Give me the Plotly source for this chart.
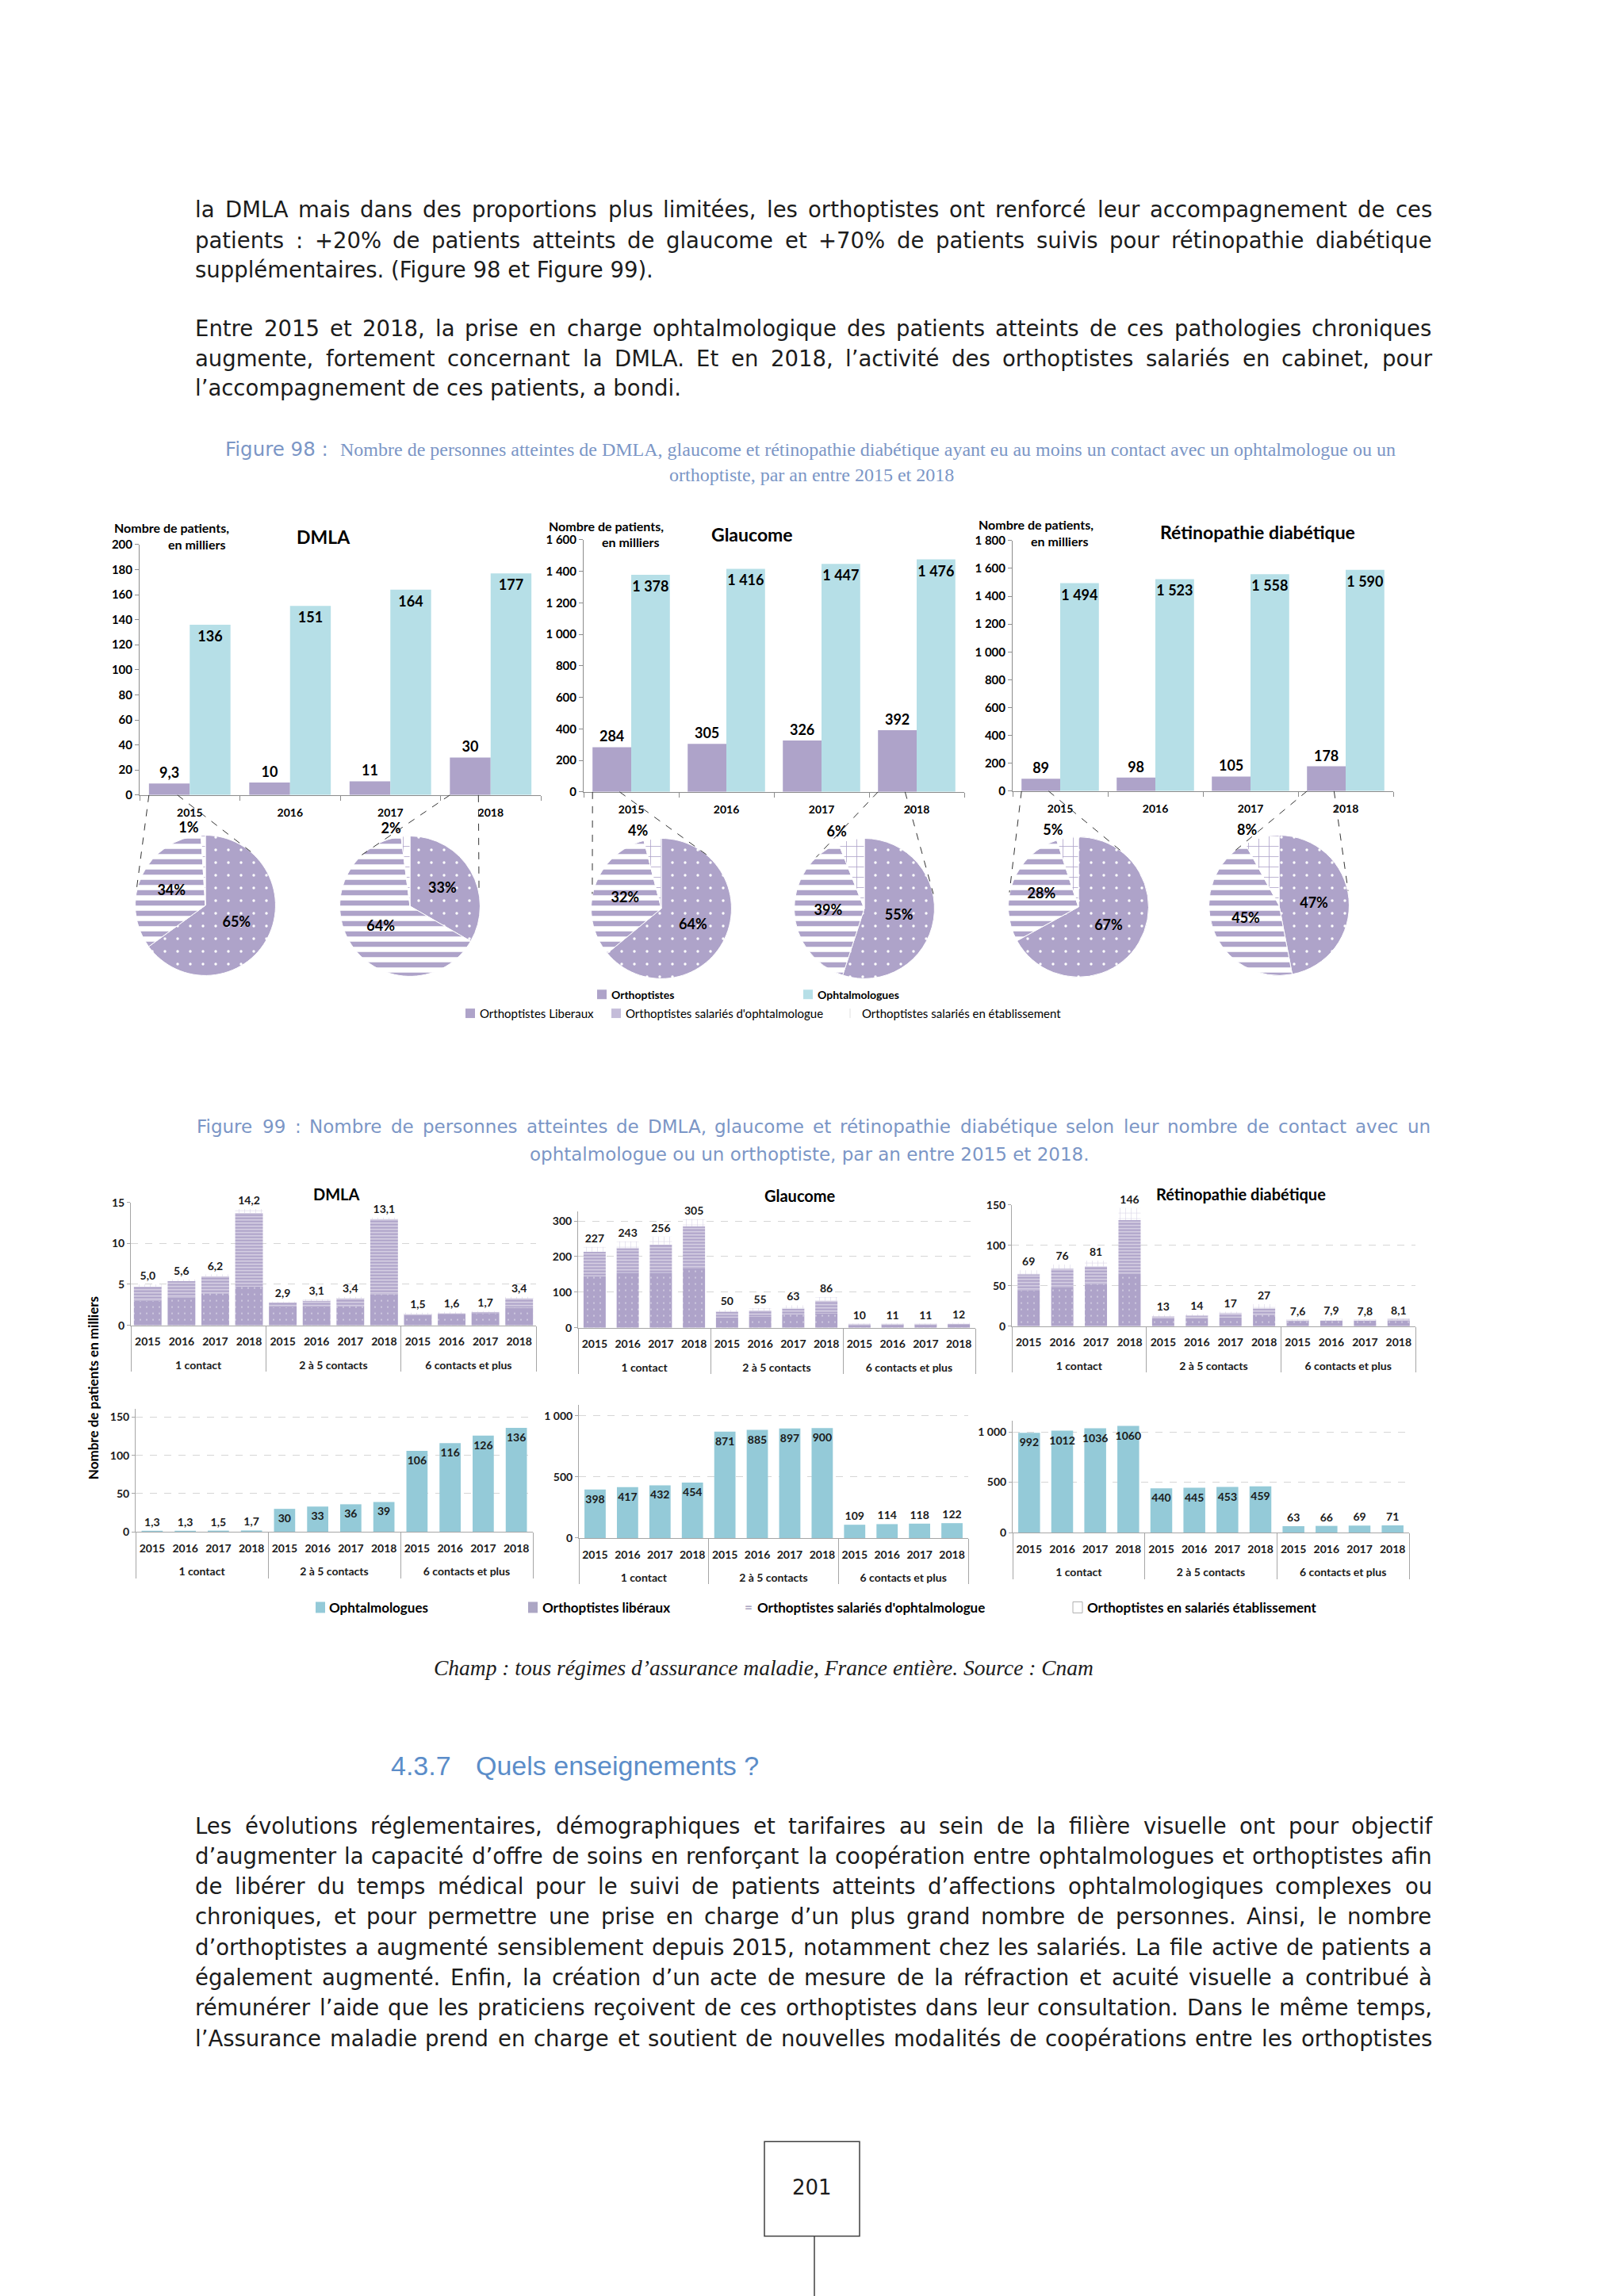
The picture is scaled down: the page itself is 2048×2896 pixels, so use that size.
import math
import unicodedata
import plotly.graph_objects as go

W, H = 2048, 2896
OFF = 8  # compensates the default 8px page margin around the plot
def X(p): return (p - OFF) / W
def Y(p): return 1 - (p - OFF) / H

PURPLE = "#aea3c9"
PURPLE_L = "#c4bcd9"
BLUE1 = "#b6dfe7"
BLUE2 = "#94cad8"
AX = "#8c8c8c"
AX2 = "#a6a6a6"
GRID = "#d6d6d6"
CAP = "#7b96c6"
HEAD = "#5b8dc9"
TXT = "#1c1c1c"
CH = "Lato"
BODY = "DejaVu Sans"
SERIF = "Liberation Serif"

# ---------------- Figure 98 data ----------------
years = ["2015", "2016", "2017", "2018"]
dmla_orthoptistes = [9.3, 10, 11, 30]
dmla_ophtalmologues = [136, 151, 164, 177]
glaucome_orthoptistes = [284, 305, 326, 392]
glaucome_ophtalmologues = [1378, 1416, 1447, 1476]
retino_orthoptistes = [89, 98, 105, 178]
retino_ophtalmologues = [1494, 1523, 1558, 1590]

pie_labels = ["Orthoptistes Liberaux", "Orthoptistes salariés d'ophtalmologue",
              "Orthoptistes salariés en établissement"]
dmla_pie_2015 = [65, 34, 1]
dmla_pie_2018 = [33, 64, 2]
glaucome_pie_2015 = [64, 32, 4]
glaucome_pie_2018 = [55, 39, 6]
retino_pie_2015 = [67, 28, 5]
retino_pie_2018 = [47, 45, 8]

# ---------------- Figure 99 data ----------------
contact_groups = ["1 contact", "2 à 5 contacts", "6 contacts et plus"]
dmla_liberaux = [3.0, 3.4, 3.9, 4.7, 2.2, 2.2, 2.3, 3.8, 1.3, 1.4, 1.45, 2.15]
dmla_sal_ophtalmo = [1.7, 2.0, 2.1, 9.0, 0.65, 0.85, 1.05, 9.2, 0.15, 0.15, 0.2, 1.2]
dmla_sal_etab = [0.3, 0.2, 0.2, 0.5, 0.05, 0.05, 0.05, 0.1, 0.05, 0.05, 0.05, 0.05]
dmla_orthoptistes_total = [5.0, 5.6, 6.2, 14.2, 2.9, 3.1, 3.4, 13.1, 1.5, 1.6, 1.7, 3.4]

glaucome_liberaux = [144, 155, 155, 167, 28, 31, 37, 40, 7, 7.5, 7.5, 8]
glaucome_sal_ophtalmo = [70, 69, 79, 118, 18, 17, 17, 36, 2.5, 3, 3, 3.5]
glaucome_sal_etab = [13, 19, 22, 20, 4, 7, 9, 10, 0.5, 0.5, 0.5, 0.5]
glaucome_orthoptistes_total = [227, 243, 256, 305, 50, 55, 63, 86, 10, 11, 11, 12]

retino_liberaux = [44, 48, 52, 65, 10, 10, 11, 14, 6.8, 7.0, 6.9, 7.1]
retino_sal_ophtalmo = [20, 23, 22, 66, 2.5, 3.5, 5, 8, 0.6, 0.7, 0.7, 0.8]
retino_sal_etab = [5, 5, 7, 15, 0.5, 0.5, 1, 5, 0.2, 0.2, 0.2, 0.2]
retino_orthoptistes_total = [69, 76, 81, 146, 13, 14, 17, 27, 7.6, 7.9, 7.8, 8.1]

dmla_ophtalmo_contacts = [1.3, 1.3, 1.5, 1.7, 30, 33, 36, 39, 106, 116, 126, 136]
glaucome_ophtalmo_contacts = [398, 417, 432, 454, 871, 885, 897, 900, 109, 114, 118, 122]
retino_ophtalmo_contacts = [992, 1012, 1036, 1060, 440, 445, 453, 459, 63, 66, 69, 71]

# ---------------- helpers ----------------
def fmt(v, sep=" "):
    if v < 10 or abs(v - round(v)) > 1e-9:
        return f"{v:.1f}".replace(".", ",")
    return f"{int(round(v)):,}".replace(",", sep)

annotations = []
shapes = []

def ann(text, x, y, size, family=CH, color=TXT, weight="normal", xanchor="left",
        yanchor="middle", style="normal", angle=0):
    annotations.append(dict(text=text, x=X(x), y=Y(y), xref="paper", yref="paper",
                            showarrow=False, xanchor=xanchor, yanchor=yanchor, textangle=angle,
                            font=dict(family=family, size=size, color=color, weight=weight, style=style)))

def sline(x0, y0, x1, y1, color, width=1, dash="solid"):
    shapes.append(dict(type="line", xref="paper", yref="paper", x0=X(x0), y0=Y(y0),
                       x1=X(x1), y1=Y(y1), line=dict(color=color, width=width, dash=dash)))

def srect(x0, y0, x1, y1, fill, color=None, width=0):
    shapes.append(dict(type="rect", xref="paper", yref="paper", x0=X(x0), y0=Y(y0),
                       x1=X(x1), y1=Y(y1), fillcolor=fill,
                       line=dict(color=color or fill, width=width)))

DJV = {' ': 651, '!': 821, '%': 1948, "'": 563, '\u2019': 651, '(': 799, ')': 799, '+': 1716,
       ',': 651, '-': 739, '.': 651, ':': 690, ';': 690, '?': 1087,
       'A': 1401, 'B': 1405, 'C': 1430, 'D': 1577, 'E': 1294, 'F': 1178, 'G': 1587, 'H': 1540,
       'I': 604, 'J': 604, 'K': 1343, 'L': 1141, 'M': 1767, 'N': 1532, 'O': 1612, 'P': 1235,
       'Q': 1612, 'R': 1423, 'S': 1300, 'T': 1251, 'U': 1499, 'V': 1401, 'W': 2025, 'X': 1403,
       'Y': 1251, 'Z': 1403, 'a': 1255, 'b': 1300, 'c': 1126, 'd': 1300, 'e': 1260, 'f': 721,
       'g': 1300, 'h': 1298, 'i': 569, 'j': 569, 'k': 1186, 'l': 569, 'm': 1995, 'n': 1298,
       'o': 1253, 'p': 1300, 'q': 1300, 'r': 842, 's': 1067, 't': 803, 'u': 1298, 'v': 1212,
       'w': 1675, 'x': 1212, 'y': 1212, 'z': 1075}
for _d in "0123456789":
    DJV[_d] = 1303

def tw(s, size):
    return sum(DJV.get(unicodedata.normalize("NFD", c)[0], 1200) for c in s) / 2048 * size

def body_line(line, y, size=27.5, color=TXT, x0=244, x1=1804, justify=True):
    if not justify:
        ann(line, x0, y, size, BODY, color)
        return
    words = line.split(" ")
    widths = [tw(w, size) for w in words]
    gap = (x1 - x0 - sum(widths)) / (len(words) - 1)
    x = x0
    for w, wd in zip(words, widths):
        ann(w, x, y, size, BODY, color)
        x += wd + gap

fig = go.Figure()
layout_axes = {}

def names(i):
    if i == 1:
        return "x", "y", "xaxis", "yaxis"
    return f"x{i}", f"y{i}", f"xaxis{i}", f"yaxis{i}"

# ---------------- Figure 98 : grouped bars + pies ----------------
BARGAP = 0.187
f98 = [
    dict(title="DMLA", ortho=dmla_orthoptistes, ophta=dmla_ophtalmologues, rng=200, dt=20,
         x0=176, x1=682, yt=681, yb=999, txy=(408, 671), nb=(216, 660), em=(248, 681),
         pies=[(dmla_pie_2015, 259, 1139, 0), (dmla_pie_2018, 517, 1140, 3)]),
    dict(title="Glaucome", ortho=glaucome_orthoptistes, ophta=glaucome_ophtalmologues, rng=1600, dt=200,
         x0=736, x1=1216, yt=675, yb=995, txy=(948, 668), nb=(764, 658), em=(795, 678),
         pies=[(glaucome_pie_2015, 834, 1143, 0), (glaucome_pie_2018, 1090, 1143, 3)]),
    dict(title="Rétinopathie diabétique", ortho=retino_orthoptistes, ophta=retino_ophtalmologues,
         rng=1800, dt=200, x0=1277, x1=1757, yt=676, yb=994, txy=(1586, 665), nb=(1306, 656),
         em=(1336, 677),
         pies=[(retino_pie_2015, 1360, 1141, 0), (retino_pie_2018, 1613, 1139, 3)]),
]

lab_font98 = dict(family=CH, size=18, color="black", weight="bold")
for k, c in enumerate(f98):
    i = k + 1
    xn, yn, xa, ya = names(i)
    layout_axes[xa] = dict(domain=[X(c["x0"]), X(c["x1"])], anchor=yn, type="category",
                           showline=True, linecolor=AX, linewidth=1, ticks="outside",
                           tickson="boundaries", ticklen=6, tickcolor=AX, tickangle=0,
                           ticklabelstandoff=9,
                           tickfont=dict(family=CH, size=14, color="black", weight="bold"),
                           showgrid=False, zeroline=False)
    layout_axes[ya] = dict(domain=[Y(c["yb"]), Y(c["yt"])], anchor=xn, range=[0, c["rng"]],
                           dtick=c["dt"], tick0=0, showline=True, linecolor=AX, ticks="outside",
                           ticklen=5, tickcolor=AX, separatethousands=True,
                           tickfont=dict(family=CH, size=15, color="black", weight="bold"),
                           showgrid=False, zeroline=False)
    fig.add_bar(x=years, y=c["ortho"], xaxis=xn, yaxis=yn, offsetgroup=f"o{i}", name="Orthoptistes",
                marker=dict(color=PURPLE, line_width=0), text=[fmt(v) for v in c["ortho"]],
                textposition="outside", textangle=0, textfont=lab_font98, cliponaxis=False,
                showlegend=False)
    fig.add_bar(x=years, y=c["ophta"], xaxis=xn, yaxis=yn, offsetgroup=f"p{i}", name="Ophtalmologues",
                marker=dict(color=BLUE1, line_width=0), text=[fmt(v) for v in c["ophta"]],
                textposition="inside", insidetextanchor="end", constraintext="none", textangle=0,
                insidetextfont=lab_font98, cliponaxis=False, showlegend=False)
    ann(c["title"], c["txy"][0], c["txy"][1], 23, weight="bold", color="black", xanchor="center")
    ann("Nombre de patients,", c["nb"][0], c["nb"][1], 16, weight="bold", color="black", xanchor="center")
    ann("en milliers", c["em"][0], c["em"][1], 16, weight="bold", color="black", xanchor="center")

    cw = (c["x1"] - c["x0"]) / 4
    R = 89
    for vals, cx, cy, yi in c["pies"]:
        fig.add_trace(go.Pie(
            values=vals, labels=pie_labels, sort=False, direction="clockwise", rotation=0,
            domain=dict(x=[X(cx - R), X(cx + R)], y=[Y(cy + R), Y(cy - R)]),
            marker=dict(colors=[PURPLE, PURPLE, "white"], line=dict(color="white", width=1),
                        pattern=dict(shape=[".", "-", "+"], fgcolor=["white", "white", PURPLE],
                                     bgcolor=[PURPLE, PURPLE, "white"], size=[16, 13, 13],
                                     solidity=[0.035, 0.5, 0.12])),
            text=[f"{v}%" for v in vals], textinfo="text",
            textposition=["inside", "inside", "outside"], insidetextorientation="horizontal",
            textfont=lab_font98, insidetextfont=lab_font98, outsidetextfont=lab_font98,
            showlegend=False, hoverinfo="skip"))
        # dashed connectors from the orthoptist bar to the pie
        bl = c["x0"] + cw * yi + cw * BARGAP / 2
        bw = cw * (1 - BARGAP) / 2
        a1, a2 = (168, 50) if yi == 0 else (133, 12)
        for bx, ang in ((bl, a1), (bl + 0.7 * bw, a2)):
            ex = cx + R * math.cos(math.radians(ang))
            ey = cy - R * math.sin(math.radians(ang))
            sline(bx, c["yb"], ex, ey, "#333333", 1, "dash")

# legend Figure 98
srect(753, 1246, 765, 1258, PURPLE)
ann("Orthoptistes", 769, 1252, 14, weight="bold", color="black")
srect(1013, 1246, 1025, 1258, BLUE1)
ann("Ophtalmologues", 1029, 1252, 14, weight="bold", color="black")
srect(587, 1270, 599, 1282, PURPLE)
ann("Orthoptistes Liberaux", 603, 1276, 15, color="black")
srect(771, 1270, 783, 1282, PURPLE_L)
ann("Orthoptistes salariés d'ophtalmologue", 787, 1276, 15, color="black")
sline(1072, 1270, 1072, 1282, "#e0e0e0", 1)
ann("Orthoptistes salariés en établissement", 1085, 1276, 15, color="black")

# ---------------- Figure 99 : stacked bars + ophtalmologues ----------------
# a leading line break gives the group labels the extra room they have in the original
x_multi = [["<br>" + g for g in contact_groups for _ in years], years * 3]
lab_font99 = dict(family=CH, size=14, color="#1a1a1a", weight="bold")

f99_top = [
    dict(lib=dmla_liberaux, sal=dmla_sal_ophtalmo, etab=dmla_sal_etab, tot=dmla_orthoptistes_total,
         rng=15, dt=5, x0=165, x1=676, yt=1516, yb=1672, title="DMLA", txy=(424, 1505), w=0.82),
    dict(lib=glaucome_liberaux, sal=glaucome_sal_ophtalmo, etab=glaucome_sal_etab,
         tot=glaucome_orthoptistes_total, rng=328, dt=100, x0=729, x1=1230, yt=1527, yb=1675,
         title="Glaucome", txy=(1009, 1507), w=0.67),
    dict(lib=retino_liberaux, sal=retino_sal_ophtalmo, etab=retino_sal_etab,
         tot=retino_orthoptistes_total, rng=150, dt=50, x0=1276, x1=1785, yt=1519, yb=1673,
         title="Rétinopathie diabétique", txy=(1565, 1505), w=0.66),
]
f99_bot = [
    dict(vals=dmla_ophtalmo_contacts, rng=161, dt=50, x0=171, x1=672, yt=1778, yb=1934, w=0.64),
    dict(vals=glaucome_ophtalmo_contacts, rng=1090, dt=500, x0=730, x1=1221, yt=1773, yb=1942, w=0.655),
    dict(vals=retino_ophtalmo_contacts, rng=1112, dt=500, x0=1277, x1=1777, yt=1793, yb=1935, w=0.66),
]

def axes99(i, c):
    xn, yn, xa, ya = names(i)
    layout_axes[xa] = dict(domain=[X(c["x0"]), X(c["x1"])], anchor=yn, type="multicategory",
                           showline=True, linecolor=AX2, linewidth=1, ticks="", tickangle=0,
                           ticklabelstandoff=8,
                           showdividers=True, dividercolor=AX2, dividerwidth=1,
                           tickfont=dict(family=CH, size=14, color="#1a1a1a", weight="bold"),
                           showgrid=False, zeroline=False)
    layout_axes[ya] = dict(domain=[Y(c["yb"]), Y(c["yt"])], anchor=xn, range=[0, c["rng"]],
                           dtick=c["dt"], tick0=0, showline=True, linecolor=AX2, ticks="outside",
                           ticklen=4, tickcolor=AX2, separatethousands=True,
                           showgrid=True, gridcolor=GRID, griddash="dash", gridwidth=1,
                           zeroline=False,
                           tickfont=dict(family=CH, size=14, color="#1a1a1a", weight="bold"))
    return xn, yn

for k, c in enumerate(f99_top):
    i = 4 + k
    xn, yn = axes99(i, c)
    base_sal = [a for a in c["lib"]]
    base_etab = [a + b for a, b in zip(c["lib"], c["sal"])]
    common = dict(x=x_multi, xaxis=xn, yaxis=yn, offsetgroup=f"s{i}", width=c["w"],
                  offset=-c["w"] / 2, showlegend=False, hoverinfo="skip", cliponaxis=False)
    fig.add_bar(y=c["lib"], base=[0] * 12, name="Orthoptistes libéraux",
                marker=dict(color=PURPLE, line_width=0,
                            pattern=dict(shape=".", fgcolor="white", bgcolor=PURPLE, size=8, solidity=0.05)),
                **common)
    fig.add_bar(y=c["sal"], base=base_sal, name="Orthoptistes salariés d'ophtalmologue",
                marker=dict(color=PURPLE, line_width=0,
                            pattern=dict(shape="-", fgcolor="white", bgcolor=PURPLE, size=4, solidity=0.45)),
                **common)
    fig.add_bar(y=c["etab"], base=base_etab, name="Orthoptistes en salariés établissement",
                marker=dict(color="white", line_width=0,
                            pattern=dict(shape="+", fgcolor=PURPLE, bgcolor="white", size=7, solidity=0.15)),
                text=[fmt(v) for v in c["tot"]], textposition="outside", constraintext="none",
                textangle=0, textfont=lab_font99, outsidetextfont=lab_font99, **common)
    ann(c["title"], c["txy"][0], c["txy"][1], 20, weight="bold", color="black", xanchor="center")

for k, c in enumerate(f99_bot):
    i = 7 + k
    xn, yn = axes99(i, c)
    pos = ["inside" if v / c["rng"] > 0.12 else "outside" for v in c["vals"]]
    fig.add_bar(x=x_multi, y=c["vals"], xaxis=xn, yaxis=yn, offsetgroup=f"b{i}", width=c["w"],
                offset=-c["w"] / 2, name="Ophtalmologues",
                marker=dict(color=BLUE2, line_width=0), text=[fmt(v, "") for v in c["vals"]],
                textposition=pos, insidetextanchor="end", constraintext="none", textangle=0,
                textfont=lab_font99, insidetextfont=lab_font99, outsidetextfont=lab_font99,
                cliponaxis=False, showlegend=False, hoverinfo="skip")

ann("Nombre de patients en milliers", 117, 1752, 17, weight="bold", color="black",
    xanchor="center", angle=-90)

# legend Figure 99
LY = 2030
srect(398, LY - 7, 410, LY + 7, BLUE2)
ann("Ophtalmologues", 413, LY, 17, weight="bold", color="black")
srect(666, LY - 7, 678, LY + 7, "#aca6c4")
ann("Orthoptistes libéraux", 682, LY, 17, weight="bold", color="black")
ann("=", 937, LY - 1, 17, weight="bold", color="#a9a4bf")
ann("Orthoptistes salariés d'ophtalmologue", 953, LY, 17, weight="bold", color="black")
srect(1353, LY - 7, 1365, LY + 7, "white", "#b0b0b0", 1)
ann("Orthoptistes en salariés établissement", 1369, LY, 17, weight="bold", color="black")

# ---------------- page text ----------------
body_line("la DMLA mais dans des proportions plus limitées, les orthoptistes ont renforcé leur accompagnement de ces", 256)
body_line("patients : +20% de patients atteints de glaucome et +70% de patients suivis pour rétinopathie diabétique", 295)
body_line("supplémentaires. (Figure 98 et Figure 99).", 332, justify=False)
body_line("Entre 2015 et 2018, la prise en charge ophtalmologique des patients atteints de ces pathologies chroniques", 406)
body_line("augmente, fortement concernant la DMLA. Et en 2018, l\u2019activité des orthoptistes salariés en cabinet, pour", 445)
body_line("l\u2019accompagnement de ces patients, a bondi.", 482, justify=False)

ann("Figure 98 :", 282, 560, 24.5, BODY, CAP)
ann("Nombre de personnes atteintes de DMLA, glaucome et rétinopathie diabétique ayant eu au moins un contact avec un ophtalmologue ou un",
    427, 560, 24, SERIF, CAP)
ann("orthoptiste, par an entre 2015 et 2018", 1023, 593, 24, SERIF, CAP, xanchor="center")

body_line("Figure 99 : Nombre de personnes atteintes de DMLA, glaucome et rétinopathie diabétique selon leur nombre de contact avec un",
          1420, size=23, color=CAP, x0=246, x1=1802)
ann("ophtalmologue ou un orthoptiste, par an entre 2015 et 2018.", 1021, 1455, 23, BODY, CAP, xanchor="center")

ann("Champ : tous régimes d\u2019assurance maladie, France entière. Source : Cnam", 963, 2107, 27.5,
    SERIF, TXT, style="italic", xanchor="center")

ann("4.3.7", 491, 2231, 34, "Liberation Sans", HEAD)
ann("Quels enseignements ?", 598, 2231, 34, "Liberation Sans", HEAD)

bottom_lines = [
    "Les évolutions réglementaires, démographiques et tarifaires au sein de la filière visuelle ont pour objectif",
    "d\u2019augmenter la capacité d\u2019offre de soins en renforçant la coopération entre ophtalmologues et orthoptistes afin",
    "de libérer du temps médical pour le suivi de patients atteints d\u2019affections ophtalmologiques complexes ou",
    "chroniques, et pour permettre une prise en charge d\u2019un plus grand nombre de personnes. Ainsi, le nombre",
    "d\u2019orthoptistes a augmenté sensiblement depuis 2015, notamment chez les salariés. La file active de patients a",
    "également augmenté. Enfin, la création d\u2019un acte de mesure de la réfraction et acuité visuelle a contribué à",
    "rémunérer l\u2019aide que les praticiens reçoivent de ces orthoptistes dans leur consultation. Dans le même temps,",
    "l\u2019Assurance maladie prend en charge et soutient de nouvelles modalités de coopérations entre les orthoptistes",
]
for n, ln in enumerate(bottom_lines):
    body_line(ln, 2307 + n * 38.5)

# page number
srect(964, 2708, 1084, 2828, "rgba(0,0,0,0)", "#404040", 1.5)
sline(1027, 2828, 1027, 2910, "#404040", 1.5)
ann("201", 1024, 2766, 26, BODY, TXT, xanchor="center")

fig.update_layout(
    width=W, height=H, margin=dict(l=0, r=0, t=0, b=0),
    paper_bgcolor="white", plot_bgcolor="white",
    barmode="group", bargap=BARGAP, bargroupgap=0,
    separators=", ", showlegend=False, hovermode=False,
    annotations=annotations, shapes=shapes,
    font=dict(family=CH, color=TXT),
    **layout_axes,
)

fig.write_html("out.html")
